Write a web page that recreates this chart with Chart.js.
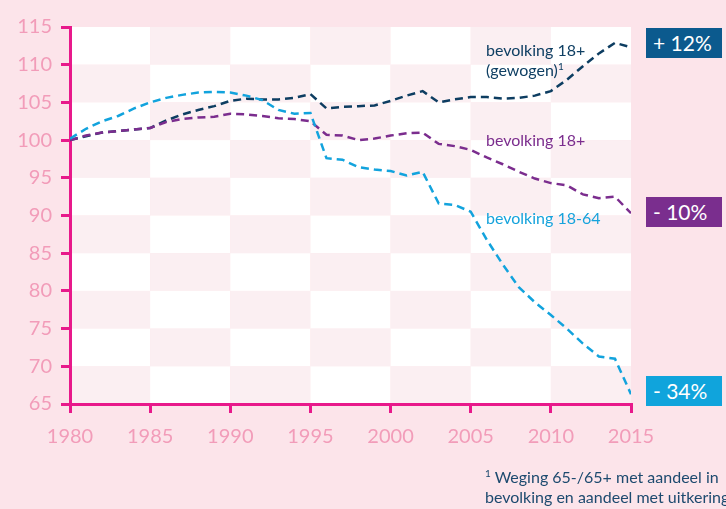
<!DOCTYPE html>
<html>
<head>
<meta charset="utf-8">
<script src="https://cdn.jsdelivr.net/npm/chart.js@4"></script>
<style>
  html, body { margin: 0; padding: 0; background: #fce4ea; }
  #wrap { position: relative; width: 726px; height: 509px; overflow: hidden; font-family: Lato, "Open Sans", sans-serif; }
  canvas { position: absolute; left: 0; top: 0; }
  .lbl { position: absolute; font-size: 16px; line-height: 20px; white-space: nowrap; }
  .badge { position: absolute; left: 646px; width: 76px; height: 30px; color: #fff; font-size: 21px; line-height: 30px; padding-left: 7px; box-sizing: border-box; }
  sup { font-size: 10px; vertical-align: 6px; line-height: 0; }
</style>
</head>
<body>
<div id="wrap">
  <canvas id="chart" width="726" height="509"></canvas>
  <div class="lbl" style="left:486px; top:40px; color:#0f3f63;">bevolking 18+<br>(gewogen)<sup>1</sup></div>
  <div class="lbl" style="left:486px; top:130px; color:#7b2d8e;">bevolking 18+</div>
  <div class="lbl" style="left:486px; top:208px; color:#16a3dc;">bevolking 18-64</div>
  <div class="badge" style="top:28px; background:#0b5a8e;">+ 12%</div>
  <div class="badge" style="top:197px; background:#7a2e8e;">- 10%</div>
  <div class="badge" style="top:376px; background:#10a4dc;">- 34%</div>
  <div class="lbl" style="left:485px; top:467px; color:#1d4a6f;"><sup>1</sup> Weging 65-/65+ met aandeel in<br>bevolking en aandeel met uitkering</div>
</div>
<script>
// years on the x axis
const years = [1980, 1981, 1982, 1983, 1984, 1985, 1986, 1987, 1988, 1989,
    1990, 1991, 1992, 1993, 1994, 1995, 1996, 1997, 1998, 1999,
    2000, 2001, 2002, 2003, 2004, 2005, 2006, 2007, 2008, 2009,
    2010, 2011, 2012, 2013, 2014, 2015];

// index 1980 = 100
const gewogen = [100, 100.5, 101, 101.2, 101.4, 101.6, 102.6, 103.4, 104.0, 104.5,
    105.2, 105.5, 105.4, 105.4, 105.6, 106.1, 104.2, 104.4, 104.5, 104.6,
    105.2, 105.9, 106.5, 105.0, 105.4, 105.7, 105.7, 105.5, 105.6, 105.9,
    106.5, 108.0, 109.8, 111.5, 112.9, 112.3];

const bevolking18 = [100, 100.6, 101.0, 101.2, 101.4, 101.6, 102.4, 102.8, 103.0, 103.1,
    103.5, 103.4, 103.2, 102.9, 102.8, 102.5, 100.7, 100.6, 100.0, 100.2,
    100.6, 100.9, 101.0, 99.5, 99.2, 98.7, 97.7, 96.8, 95.8, 94.9,
    94.3, 94.0, 92.8, 92.3, 92.5, 90.3];

const bevolking1864 = [100.2, 101.5, 102.5, 103.2, 104.2, 105.0, 105.6, 106.0, 106.3, 106.4,
    106.3, 105.9, 105.3, 104.0, 103.5, 103.6, 97.6, 97.4, 96.4, 96.1,
    95.9, 95.3, 95.8, 91.6, 91.4, 90.5, 86.8, 83.5, 80.5, 78.5,
    76.8, 75.0, 73.0, 71.3, 71.0, 66.3];

const xMin = 1980, xMax = 2015, yMin = 65, yMax = 115, step = 5;

const magenta = '#e8198b';
const tickPink = '#f29cb9';

function toPoints(vals) {
    return years.map((y, i) => ({ x: y, y: vals[i] }));
}

// checkerboard behind the plot
const checkerboard = {
    id: 'checkerboard',
    beforeDraw(chart) {
        const ctx = chart.ctx;
        const xs = chart.scales.x, ys = chart.scales.y;
        ctx.save();
        let i = 0;
        for (let xv = xMin; xv < xMax; xv += step, i++) {
            let j = 0;
            for (let yv = yMax; yv > yMin; yv -= step, j++) {
                const x0 = xs.getPixelForValue(xv), x1 = xs.getPixelForValue(xv + step);
                const y0 = ys.getPixelForValue(yv), y1 = ys.getPixelForValue(yv - step);
                ctx.fillStyle = (i + j) % 2 === 0 ? '#ffffff' : '#fbeff2';
                ctx.fillRect(x0, y0, x1 - x0, y1 - y0);
            }
        }
        ctx.restore();
    }
};

function lineSet(label, vals, color) {
    return {
        label: label,
        data: toPoints(vals),
        borderColor: color,
        borderWidth: 2.5,
        borderDash: [8, 5],
        pointRadius: 0,
        tension: 0,
        fill: false
    };
}

new Chart(document.getElementById('chart'), {
    type: 'line',
    data: {
        datasets: [
            lineSet('bevolking 18-64', bevolking1864, '#12a3dd'),
            lineSet('bevolking 18+', bevolking18, '#7b2d8e'),
            lineSet('bevolking 18+ (gewogen)', gewogen, '#0d3d61')
        ]
    },
    options: {
        responsive: false,
        animation: false,
        layout: { padding: { top: 27, right: 95, left: 0, bottom: 0 } },
        plugins: { legend: { display: false }, tooltip: { enabled: false } },
        scales: {
            x: {
                type: 'linear',
                min: xMin,
                max: xMax,
                afterFit(scale) { scale.height = 105; },
                ticks: {
                    stepSize: step,
                    color: tickPink,
                    padding: 12,
                    font: { family: 'Lato', size: 20 },
                    callback: v => String(v)
                },
                grid: { drawOnChartArea: false, color: magenta, lineWidth: 3, tickLength: 9 },
                border: { color: magenta, width: 3 }
            },
            y: {
                min: yMin,
                max: yMax,
                afterFit(scale) { scale.width = 70; },
                ticks: {
                    stepSize: step,
                    color: tickPink,
                    padding: 9,
                    font: { family: 'Lato', size: 20 },
                    callback: v => String(v)
                },
                grid: { drawOnChartArea: false, color: magenta, lineWidth: 3, tickLength: 9 },
                border: { color: magenta, width: 3 }
            }
        }
    },
    plugins: [checkerboard]
});
</script>
</body>
</html>
